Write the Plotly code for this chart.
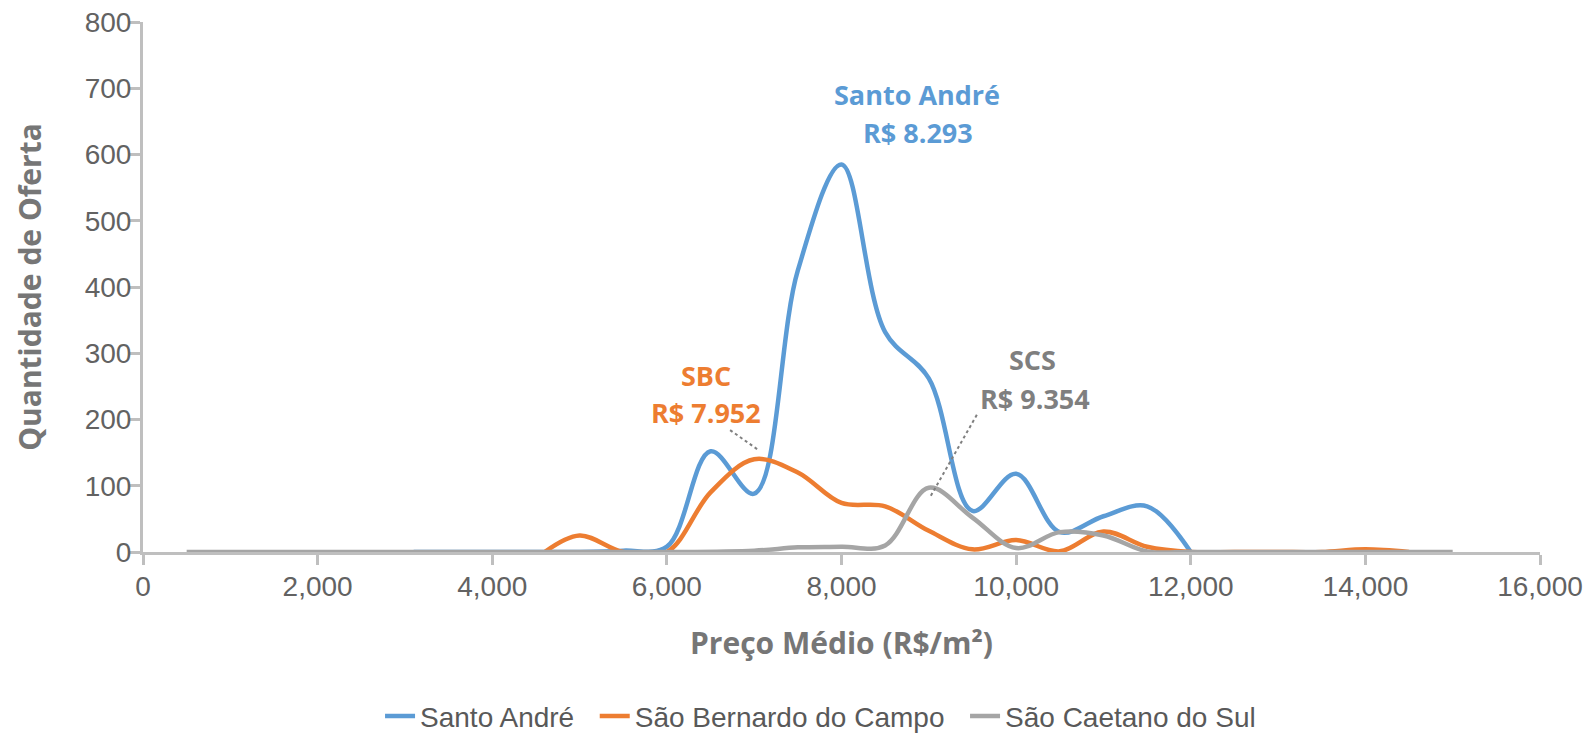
import plotly.graph_objects as go

# Oferta de imóveis por faixa de preço médio (R$/m²)
santo_andre_x = [3100, 3500, 4000, 4500, 5000, 5500, 6000, 6500, 7000, 7500,
                 8000, 8500, 9000, 9500, 10000, 10500, 11000, 11500, 12000]
santo_andre_y = [0, 0, 0, 0, 0, 2, 8, 152, 88, 425,
                 585, 332, 262, 62, 118, 30, 54, 69, 0]

sbc_x = [4600, 5000, 5500, 6000, 6500, 7000, 7500, 8000, 8500, 9000, 9500,
         10000, 10500, 11000, 11500, 12000, 12500, 13000, 13500, 14000, 14500]
sbc_y = [0, 25, 0, 0, 90, 140, 120, 74, 69, 32, 4,
         18, 1, 31, 8, 0, 0, 0, 0, 4, 0]

scs_x = [500, 1000, 2000, 3000, 4000, 5000, 6000, 7000, 7500, 8000, 8500,
         9000, 9500, 10000, 10500, 11000, 11500, 12000, 13000, 14000, 15000]
scs_y = [0, 0, 0, 0, 0, 0, 0, 2, 7, 8, 10,
         97, 52, 6, 30, 25, 1, 0, 0, 0, 0]

series_names = ["Santo André", "São Bernardo do Campo", "São Caetano do Sul"]
series_colors = ["#5B9BD5", "#ED7D31", "#A5A5A5"]

x_ticks = [0, 2000, 4000, 6000, 8000, 10000, 12000, 14000, 16000]
x_tick_text = ["0", "2,000", "4,000", "6,000", "8,000", "10,000", "12,000", "14,000", "16,000"]
y_ticks = [0, 100, 200, 300, 400, 500, 600, 700, 800]

# average price labels per city
label_titles = ["Santo André", "SBC", "SCS"]
label_prices = ["R$ 8.293", "R$ 7.952", "R$ 9.354"]
label_colors = ["#5B9BD5", "#ED7D31", "#7F7F7F"]

AXIS_COLOR = "#BFBFBF"
TICK_FONT = dict(family="Liberation Sans, Arial, sans-serif", size=28, color="#626262")
TITLE_FONT = dict(family="Open Sans, sans-serif", size=30, color="#767676")
LEGEND_PAD = "\u00a0\u00a0"  # extra room between legend entries

fig = go.Figure()
for i, (xs, ys, name, color) in enumerate(zip([santo_andre_x, sbc_x, scs_x],
                                              [santo_andre_y, sbc_y, scs_y],
                                              series_names, series_colors)):
    shown = name + (LEGEND_PAD if i < len(series_names) - 1 else "")
    fig.add_trace(go.Scatter(
        x=xs, y=ys, name=shown, mode="lines",
        line=dict(color=color, width=4.5, shape="spline", smoothing=1.0),
    ))

# label text: (x, y) centre of each line in data units
label_pos = [((8866, 690), (8877, 633)),
             ((6449, 267), (6449, 210)),
             ((10183, 290), (10218, 231))]
for title, price, color, (p1, p2) in zip(label_titles, label_prices, label_colors, label_pos):
    for txt, (ax_, ay_) in ((title, p1), (price, p2)):
        fig.add_annotation(
            x=ax_, y=ay_, xref="x", yref="y", text=f"<b>{txt}</b>",
            showarrow=False, xanchor="center", yanchor="middle",
            font=dict(family="Open Sans, sans-serif", size=27, color=color),
        )

# dotted leader lines from the labels to the curves
leaders = [((6724, 184), (7048, 154)), ((9550, 207), (9015, 83))]
for (x0, y0), (x1, y1) in leaders:
    fig.add_shape(type="line", xref="x", yref="y", x0=x0, y0=y0, x1=x1, y1=y1,
                  line=dict(color="#7F7F7F", width=2, dash="dot"))

fig.update_layout(
    width=1587, height=733,
    margin=dict(l=143, r=47, t=22, b=181, autoexpand=False),
    paper_bgcolor="white", plot_bgcolor="white",
    showlegend=True,
    legend=dict(
        orientation="h", x=0.485, xanchor="center", y=-0.31, yanchor="middle",
        font=dict(family="Liberation Sans, sans-serif", size=28, color="#595959"),
        itemwidth=30, bgcolor="rgba(0,0,0,0)",
    ),
    xaxis=dict(
        range=[0, 16000], tickvals=x_ticks, ticktext=x_tick_text,
        showgrid=False, zeroline=False, automargin=False,
        showline=True, linecolor=AXIS_COLOR, linewidth=3,
        ticks="outside", ticklen=10, tickwidth=2.5, tickcolor=AXIS_COLOR,
        tickfont=TICK_FONT, ticklabelstandoff=-3,
        title=dict(text="<b>Preço Médio (R$/m²)</b>", font=TITLE_FONT, standoff=33),
    ),
    xaxis2=dict(
        range=[0, 16000], tickvals=x_ticks, overlaying="x", anchor="y", side="bottom",
        showgrid=False, zeroline=False, showline=False, showticklabels=False,
        ticks="inside", ticklen=10, tickwidth=2.5, tickcolor=AXIS_COLOR,
    ),
    yaxis=dict(
        range=[0, 800], tickvals=y_ticks,
        showgrid=False, zeroline=False, automargin=False,
        showline=True, linecolor=AXIS_COLOR, linewidth=3,
        ticks="outside", ticklen=11, tickwidth=2.5, tickcolor=AXIS_COLOR,
        tickfont=TICK_FONT, ticklabelstandoff=-8,
        title=dict(text="<b>Quantidade de Oferta</b>", font=TITLE_FONT, standoff=35),
    ),
    yaxis2=dict(
        range=[0, 800], tickvals=y_ticks, overlaying="y", anchor="x", side="left",
        showgrid=False, zeroline=False, showline=False, showticklabels=False,
        ticks="inside", ticklen=11, tickwidth=2.5, tickcolor=AXIS_COLOR,
    ),
)

fig.write_html("out.html")
